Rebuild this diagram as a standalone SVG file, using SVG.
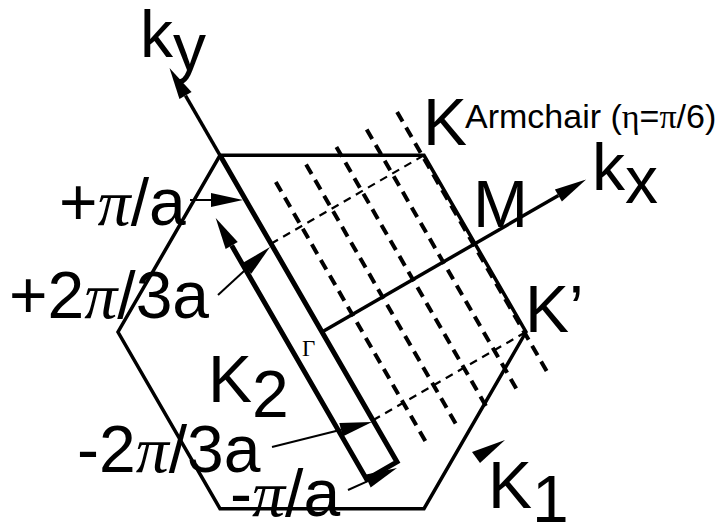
<svg xmlns="http://www.w3.org/2000/svg" width="723" height="522" viewBox="0 0 723 522">
<defs>
<style>
.hex{fill:none;stroke:#000;stroke-width:3.5}
.axis{fill:none;stroke:#000;stroke-width:3.5}
.thick{fill:none;stroke:#000;stroke-width:5}
.dash{fill:none;stroke:#000;stroke-width:4;stroke-dasharray:11 7}
.tdash{fill:none;stroke:#000;stroke-width:2.2;stroke-dasharray:8 6}
.thin{fill:none;stroke:#000;stroke-width:2}
.lbl{font-family:"Liberation Sans",Arial,sans-serif;font-size:66px;fill:#000}
.sm{font-family:"Liberation Sans",Arial,sans-serif;font-size:34px;fill:#000}
.gr{font-family:"Liberation Serif","Times New Roman",serif;font-style:italic}
.gu{font-family:"Liberation Serif","Times New Roman",serif}
.head{fill:#000;stroke:none}
</style>
<marker id="ah" markerUnits="userSpaceOnUse" markerWidth="34" markerHeight="16" viewBox="0 -8 34 16" refX="0" refY="0" orient="auto" overflow="visible">
<path d="M0,-7 L32,0 L0,7 z" fill="#000"/>
</marker>
</defs>
<g id="hexagon">
<polygon class="hex" points="526,332 424,508.7 220,508.7 118,332 220,155.3 424,155.3"/>
</g>
<g id="connectors">
<line class="dash" x1="275.8" y1="182" x2="428.8" y2="447"/>
<line class="dash" x1="306.1" y1="164.5" x2="459.1" y2="429.5"/>
<line class="dash" x1="336.4" y1="147" x2="489.4" y2="412"/>
<line class="dash" x1="366.7" y1="129.5" x2="519.7" y2="394.5"/>
<line class="dash" x1="397.1" y1="112" x2="550.1" y2="377"/>
<line class="tdash" x1="271" y1="243.7" x2="424" y2="155.3"/>
<line class="tdash" x1="373" y1="420.3" x2="526" y2="332"/>
<path class="thick" d="M220,155.3 L397,461.9 L366.7,479.4 L231.7,245.6" marker-end="url(#ah)"/>
<line class="axis" x1="322" y1="332" x2="558.4" y2="195.5" marker-end="url(#ah)"/>
<line class="axis" x1="220" y1="155.3" x2="185.5" y2="95.6" marker-end="url(#ah)"/>
<line class="thin" x1="190" y1="200" x2="211" y2="200" marker-end="url(#ah)"/>
<line class="thin" x1="218" y1="295" x2="246.5" y2="268.7" marker-end="url(#ah)"/>
<line class="thin" x1="272" y1="447" x2="341" y2="429.8" marker-end="url(#ah)"/>
<line class="thin" x1="348" y1="490" x2="367.8" y2="481.1" marker-end="url(#ah)"/>
<polygon class="head" points="472,452 505,440 480,463"/>
</g>
<g id="labels">
<text class="lbl" x="140" y="57">k<tspan y="70">y</tspan></text>
<text class="lbl" x="592" y="190">k<tspan y="203">x</tspan></text>
<text class="lbl" x="423" y="145">K</text>
<text class="sm" x="465" y="128">Armchair (<tspan class="gu">η</tspan>=<tspan class="gu">π</tspan>/6)</text>
<text class="lbl" x="473" y="227">M</text>
<text class="lbl" x="525" y="332">K’</text>
<text class="lbl" x="59" y="225">+<tspan class="gr">π</tspan>/a</text>
<text class="lbl" x="9" y="318">+2<tspan class="gr">π</tspan>/3a</text>
<text class="lbl" x="208" y="402">K<tspan y="417">2</tspan></text>
<text class="lbl" x="77" y="472">-2<tspan class="gr">π</tspan>/3a</text>
<text class="lbl" x="230" y="516">-<tspan class="gr">π</tspan>/a</text>
<text class="lbl" x="488" y="508">K<tspan y="522">1</tspan></text>
<text x="302" y="356" font-family="Liberation Serif,'Times New Roman',serif" font-size="23">Γ</text>
</g>
</svg>
